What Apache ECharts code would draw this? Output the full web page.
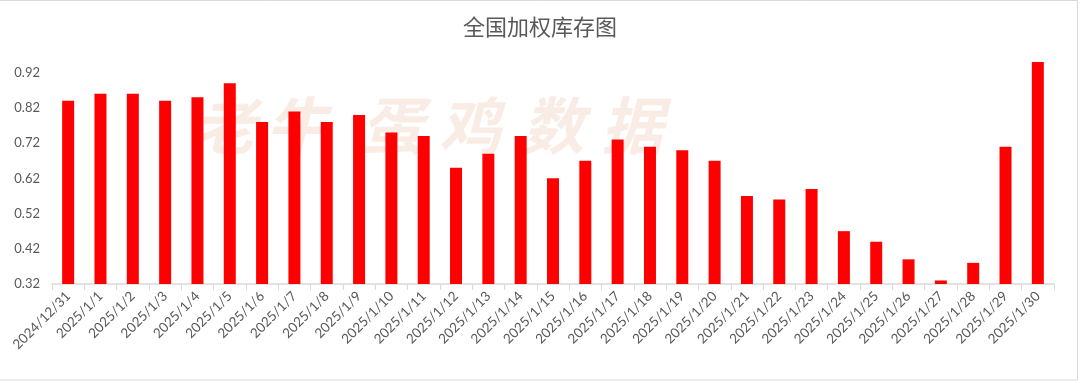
<!DOCTYPE html>
<html>
<head>
<meta charset="utf-8">
<script src="https://cdn.jsdelivr.net/npm/echarts@6/dist/echarts.min.js"></script>
<style>
html,body{margin:0;padding:0;background:#fff;}
#chart{width:1080px;height:383px;}
</style>
</head>
<body>
<div id="chart"></div>
<script>
const titleText = '全国加权库存图';
const categories = ['2024/12/31','2025/1/1','2025/1/2','2025/1/3','2025/1/4','2025/1/5','2025/1/6','2025/1/7','2025/1/8','2025/1/9','2025/1/10','2025/1/11','2025/1/12','2025/1/13','2025/1/14','2025/1/15','2025/1/16','2025/1/17','2025/1/18','2025/1/19','2025/1/20','2025/1/21','2025/1/22','2025/1/23','2025/1/24','2025/1/25','2025/1/26','2025/1/27','2025/1/28','2025/1/29','2025/1/30'];
const inventory = [0.84,0.86,0.86,0.84,0.85,0.89,0.78,0.81,0.78,0.80,0.75,0.74,0.65,0.69,0.74,0.62,0.67,0.73,0.71,0.70,0.67,0.57,0.56,0.59,0.47,0.44,0.39,0.33,0.38,0.71,0.95];
const yMin = 0.32, yMax = 0.99, yStep = 0.1;
const watermarkChars = ['老','牛','蛋','鸡','数','据'];
const watermarkX = [225, 297, 392, 470, 553, 632];

const chart = echarts.init(document.getElementById('chart'), null, {renderer:'canvas'});
const graphics = [{
  type:'rect', z:-10, silent:true,
  shape:{x:-1, y:0.5, width:1078.5, height:379.5},
  style:{fill:'none', stroke:'#d9d9d9', lineWidth:1}
}];
watermarkChars.forEach((c,i)=>{
  graphics.push({
    type:'text', z:-5, silent:true, x:watermarkX[i], y:125,
    style:{text:c, font:'italic bold 62px "Noto Sans CJK SC"', fill:'rgba(240,205,185,0.38)', align:'center', verticalAlign:'middle'}
  });
});
chart.setOption({
  animation:false,
  backgroundColor:'#fff',
  title:{text:titleText, left:'center', top:11, textStyle:{fontFamily:'"Noto Sans CJK SC"', fontSize:22, fontWeight:'normal', color:'#595959'}},
  graphic:graphics,
  grid:{left:52, right:26, top:48, bottom:99, containLabel:false},
  xAxis:{
    type:'category', data:categories, boundaryGap:true,
    axisLine:{lineStyle:{color:'#d9d9d9', width:1.5}},
    axisTick:{show:true, alignWithLabel:false, length:6, lineStyle:{color:'#d9d9d9'}},
    axisLabel:{interval:0, rotate:45, color:'#595959', fontFamily:'Lato', fontSize:13.5, margin:10}
  },
  yAxis:{
    type:'value', min:yMin, max:yMax, interval:yStep,
    axisLine:{show:false}, axisTick:{show:false}, splitLine:{show:false},
    axisLabel:{color:'#595959', fontFamily:'Lato', fontSize:13, margin:12, showMaxLabel:false,
      formatter:v=> (Math.abs((v - yMin)/yStep - Math.round((v - yMin)/yStep)) < 1e-6) ? v.toFixed(2) : ''}
  },
  series:[{type:'bar', data:inventory, barWidth:12, itemStyle:{color:'#ff0000'}}]
});
</script>
</body>
</html>
